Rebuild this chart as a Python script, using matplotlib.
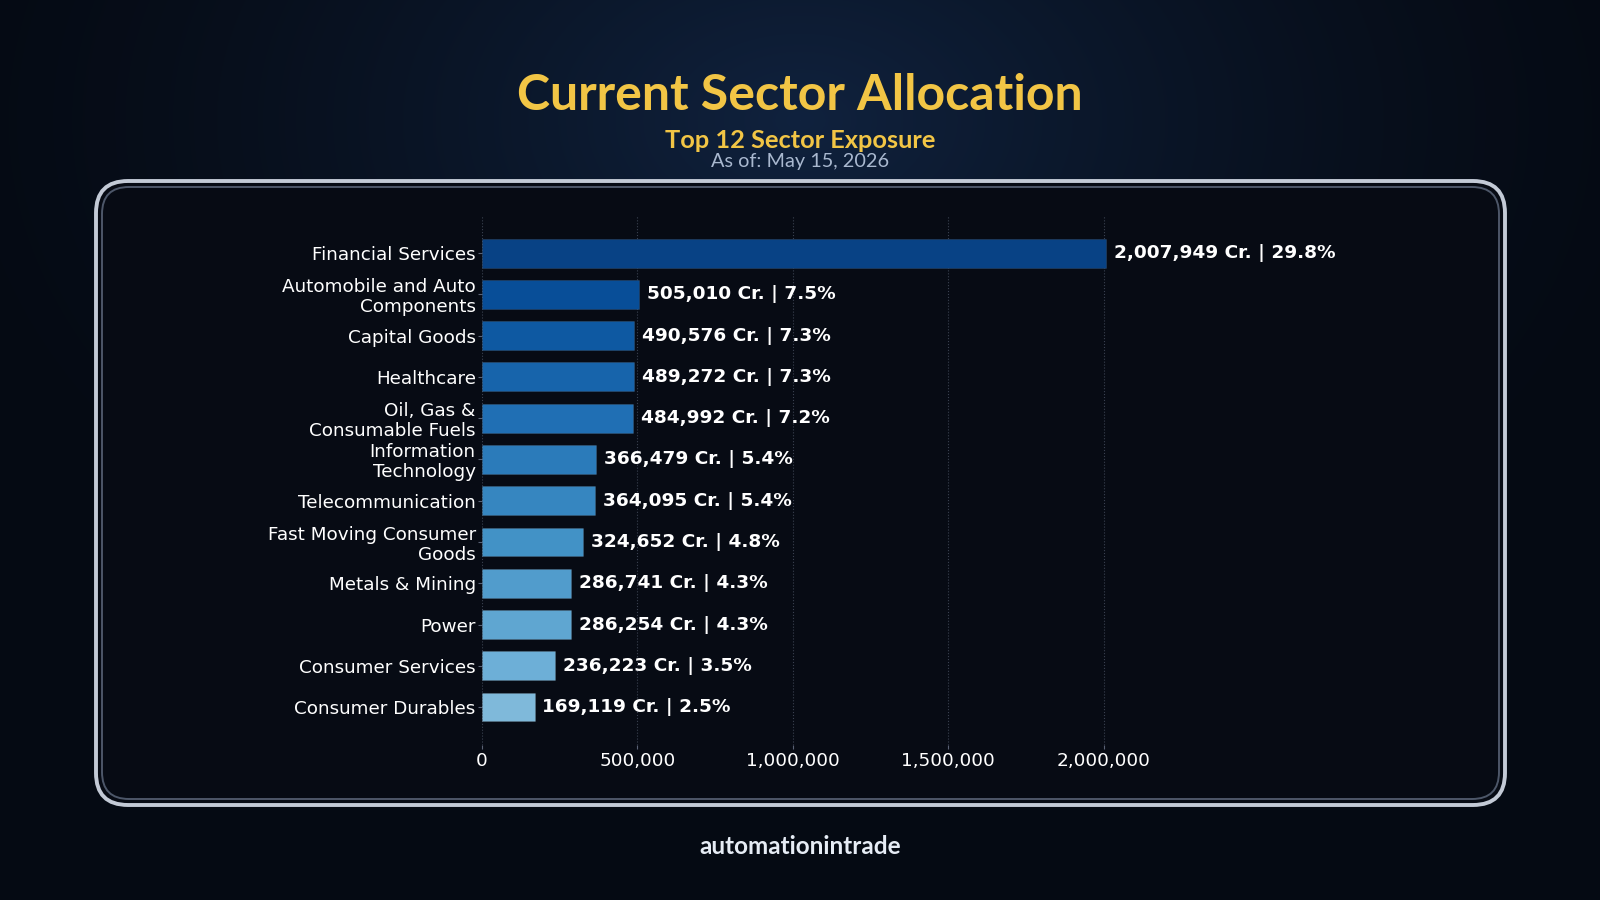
#!/usr/bin/env python3
# sector_allocation.py

import numpy as np
import matplotlib
matplotlib.use("Agg")
import matplotlib.pyplot as plt
from matplotlib.patches import FancyBboxPatch

# ── Data ──────────────────────────────────────────────────────────────────────
sectors = [
    "Financial Services",
    "Automobile and Auto\nComponents",
    "Capital Goods",
    "Healthcare",
    "Oil, Gas &\nConsumable Fuels",
    "Information\nTechnology",
    "Telecommunication",
    "Fast Moving Consumer\nGoods",
    "Metals & Mining",
    "Power",
    "Consumer Services",
    "Consumer Durables",
]
values_cr = [2007949, 505010, 490576, 489272, 484992, 366479,
             364095, 324652, 286741, 286254, 236223, 169119]
weights_pct = [29.8, 7.5, 7.3, 7.3, 7.2, 5.4, 5.4, 4.8, 4.3, 4.3, 3.5, 2.5]
x_ticks = [0, 500000, 1000000, 1500000, 2000000]

TITLE = "Current Sector Allocation"
SUBTITLE = "Top 12 Sector Exposure"
AS_OF = "As of: May 15, 2026"
FOOTER = "automationintrade"
# ──────────────────────────────────────────────────────────────────────────────

W, H = 1600, 900
fig = plt.figure(figsize=(16, 9), dpi=100)

# background: pixel-space axes with a soft radial glow
bg = fig.add_axes([0, 0, 1, 1])
bg.set_xlim(0, W)
bg.set_ylim(H, 0)
bg.axis("off")
yy, xx = np.mgrid[0:H, 0:W]
d = np.sqrt(((xx - 800) / 900.0) ** 2 + ((yy - 120) / 600.0) ** 2)
glow = np.clip(1 - d, 0, 1) ** 1.5
base = np.array([0x05, 0x0a, 0x13]) / 255.0
hi = np.array([0x10, 0x22, 0x3e]) / 255.0
img = base + glow[..., None] * (hi - base)
bg.imshow(img, extent=[0, W, H, 0], aspect="auto", zorder=0)

# rounded panel with double outline
panel = FancyBboxPatch((96, 181), 1409, 624,
                       boxstyle="round,pad=0,rounding_size=32",
                       facecolor="#070b14", edgecolor="#c3cad6",
                       linewidth=2.8, zorder=1)
bg.add_patch(panel)
inner = FancyBboxPatch((102, 187), 1397, 612,
                       boxstyle="round,pad=0,rounding_size=27",
                       facecolor="none", edgecolor="#4d5769",
                       linewidth=1.4, zorder=2)
bg.add_patch(inner)

# titles
bg.text(800, 95, TITLE, ha="center", va="center", color="#f2c545",
        fontsize=36, fontweight="bold", family="Lato", zorder=3)
bg.text(800, 141, SUBTITLE, ha="center", va="center", color="#f2c545",
        fontsize=18.3, fontweight="bold", family="Lato", zorder=3)
bg.text(800, 161, AS_OF, ha="center", va="center", color="#a9b8cf",
        fontsize=14.3, family="Lato", zorder=3)
bg.text(800, 847, FOOTER, ha="center", va="center", color="#e6ecf5",
        fontsize=17.5, fontweight="bold", family="Lato", zorder=3)

# bar chart
ax = fig.add_axes([482 / W, 1 - 745 / H, 777 / W, 529 / H])
ax.patch.set_alpha(0)
y = np.arange(len(sectors))
colors = plt.cm.Blues(np.linspace(0.93, 0.45, len(sectors)))
ax.barh(y, values_cr, height=0.7, color=colors,
        edgecolor=(1, 1, 1, 0.08), linewidth=0.8, zorder=3)

for yi, v, p in zip(y, values_cr, weights_pct):
    ax.text(v + 25000, yi, f"{v:,} Cr. | {p:.1f}%", va="center", ha="left",
            color="white", fontsize=13.3, fontweight="bold", zorder=4)

ax.set_yticks(y)
ax.set_yticklabels(sectors, fontsize=13.2, color="white", linespacing=1.12)
ax.set_xticks(x_ticks)
ax.set_xticklabels([f"{t:,}" for t in x_ticks], fontsize=13.3, color="white")
ax.set_xlim(0, 2500000)
ax.set_ylim(len(sectors) - 1 + 0.92, -0.9)
ax.tick_params(axis="y", colors="#5a6275", length=3, labelcolor="white", pad=1.5)
ax.tick_params(axis="x", colors="#5a6275", length=3, labelcolor="white", pad=2)
for s in ax.spines.values():
    s.set_visible(False)
ax.grid(axis="x", color="#3a4150", linestyle=":", linewidth=0.8, zorder=0)
ax.set_axisbelow(True)

fig.savefig("out.png", dpi=100, facecolor=fig.get_facecolor())
